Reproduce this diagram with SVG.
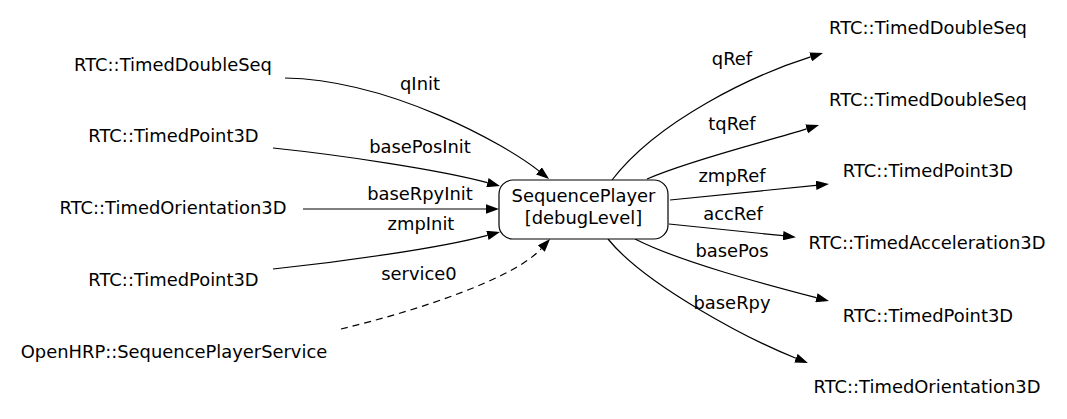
<svg xmlns="http://www.w3.org/2000/svg" width="1067" height="419" viewBox="0 0 1067 419">
<style>
text{font-family:"DejaVu Sans","Liberation Sans",sans-serif;font-size:17.9px;fill:#000;text-anchor:middle}
.e{fill:none;stroke:#000;stroke-width:1.2}
.d{stroke-dasharray:7,5}
.n{fill:#fff;stroke:#000;stroke-width:1.2}
</style>
<defs>
<marker id="ah" viewBox="0 0 13 9.4" refX="0" refY="4.7" markerWidth="13" markerHeight="9.4" markerUnits="userSpaceOnUse" orient="auto">
<path d="M0,0 L13,4.7 L0,9.4 z" fill="#000"/>
</marker>
</defs>
<rect width="1067" height="419" fill="#fff"/>
<g id="connectors">
<path class="e" marker-end="url(#ah)" d="M285,78 C390,80 505,144 538.9,170.9"/>
<path class="e" marker-end="url(#ah)" d="M273,148 C340,155 439,169.6 487.4,182.6"/>
<path class="e" marker-end="url(#ah)" d="M303,209 L486,209"/>
<path class="e" marker-end="url(#ah)" d="M273,269 C340,262 439,248.4 487.4,235.4"/>
<path class="e d" marker-end="url(#ah)" d="M341,329 C420,310 514.5,278.2 541.3,248.6"/>
<path class="e" marker-end="url(#ah)" d="M612,180 C658,120 753.6,74.9 810.6,56.9"/>
<path class="e" marker-end="url(#ah)" d="M647,179 C690,160 768.6,140.9 806.6,128.9"/>
<path class="e" marker-end="url(#ah)" d="M670,200 C720,195 770,190 816,185.3"/>
<path class="e" marker-end="url(#ah)" d="M669,224 C710,228 750,232 783,235.7"/>
<path class="e" marker-end="url(#ah)" d="M635,239 C680,262 768,285 816.4,297.7"/>
<path class="e" marker-end="url(#ah)" d="M608,239 C645,285 749.4,339.7 795.9,358.2"/>
<text x="420" y="90">qInit</text>
<text x="420" y="153">basePosInit</text>
<text x="420" y="200">baseRpyInit</text>
<text x="421" y="230">zmpInit</text>
<text x="419" y="280">service0</text>
<text x="732" y="65">qRef</text>
<text x="732" y="130">tqRef</text>
<text x="732" y="182">zmpRef</text>
<text x="733" y="220">accRef</text>
<text x="732" y="257">basePos</text>
<text x="732" y="309">baseRpy</text>
</g>
<g id="SequencePlayer">
<rect class="n" x="499" y="180" width="169" height="59" rx="14"/>
<text x="583.5" y="202">SequencePlayer</text>
<text x="583.5" y="224">[debugLevel]</text>
</g>
<g id="in_qInit"><text x="173" y="71">RTC::TimedDoubleSeq</text></g>
<g id="in_basePosInit"><text x="173.5" y="142">RTC::TimedPoint3D</text></g>
<g id="in_baseRpyInit"><text x="173" y="214">RTC::TimedOrientation3D</text></g>
<g id="in_zmpInit"><text x="173.5" y="286">RTC::TimedPoint3D</text></g>
<g id="in_service0"><text x="174" y="358">OpenHRP::SequencePlayerService</text></g>
<g id="out_qRef"><text x="928" y="34">RTC::TimedDoubleSeq</text></g>
<g id="out_tqRef"><text x="928" y="106">RTC::TimedDoubleSeq</text></g>
<g id="out_zmpRef"><text x="928" y="177">RTC::TimedPoint3D</text></g>
<g id="out_accRef"><text x="927" y="249">RTC::TimedAcceleration3D</text></g>
<g id="out_basePos"><text x="928" y="322">RTC::TimedPoint3D</text></g>
<g id="out_baseRpy"><text x="927" y="393">RTC::TimedOrientation3D</text></g>
</svg>
